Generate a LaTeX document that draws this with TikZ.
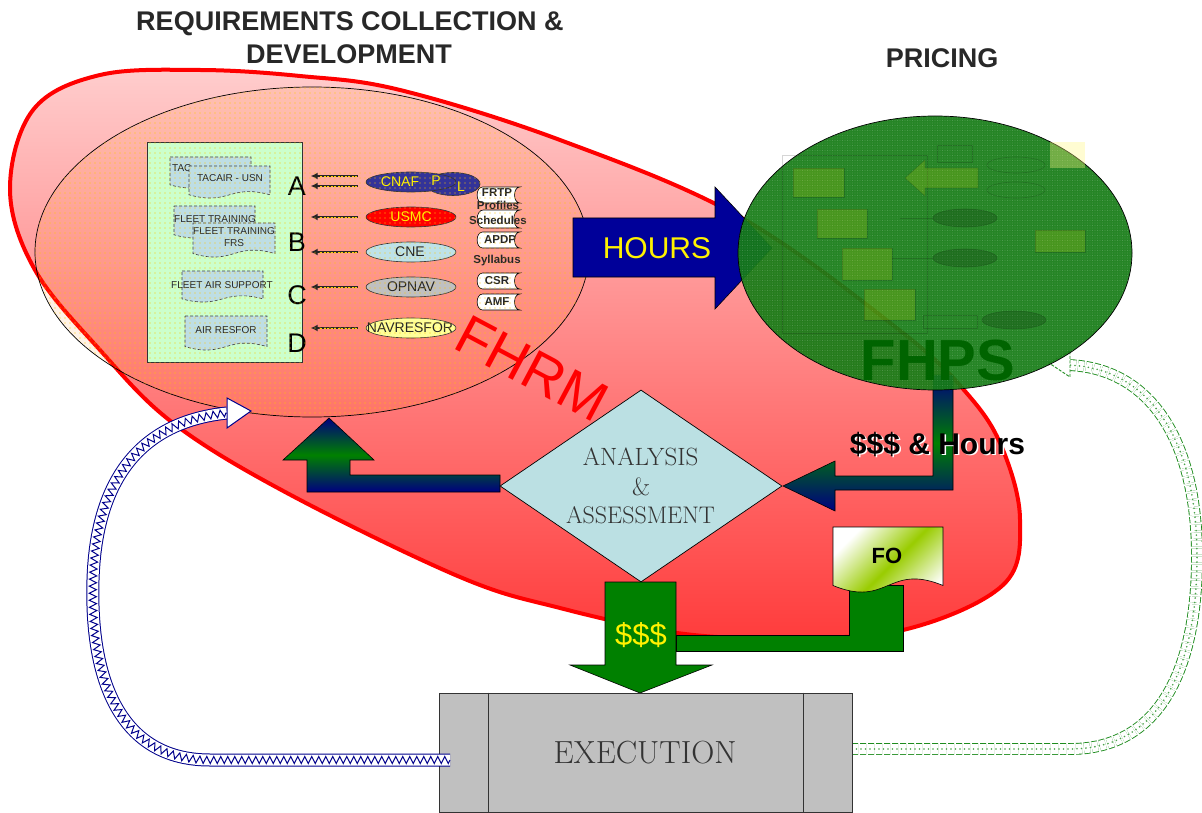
\documentclass[tikz,border=0pt]{standalone}
\usepackage{fontspec}
\setsansfont{Liberation Sans}
\usetikzlibrary{shapes.geometric,patterns,patterns.meta,decorations.pathmorphing,arrows.meta,calc}
\definecolor{redtop}{RGB}{255,205,205}
\definecolor{redbot}{RGB}{255,60,60}
\definecolor{dotyel}{RGB}{255,200,0}
\definecolor{reqgreen}{RGB}{204,255,204}
\definecolor{docblue}{RGB}{190,222,228}
\definecolor{cnafblue}{RGB}{51,51,153}
\definecolor{cnecol}{RGB}{190,226,232}
\definecolor{opcol}{RGB}{192,192,192}
\definecolor{navcol}{RGB}{255,255,153}
\definecolor{hoursblue}{RGB}{0,0,153}
\definecolor{arrnavy}{RGB}{0,0,128}
\definecolor{arrgreen}{RGB}{0,128,0}
\definecolor{dgreen}{RGB}{0,128,0}
\definecolor{fhpsgreen}{RGB}{22,124,22}
\definecolor{fhpstext}{RGB}{0,100,0}
\definecolor{diacol}{RGB}{187,224,227}
\definecolor{execgray}{RGB}{192,192,192}
\definecolor{titlegray}{RGB}{40,40,40}
\definecolor{fogreen}{RGB}{153,204,0}
\definecolor{bandblue}{RGB}{0,0,140}
\definecolor{bandgreen}{RGB}{30,140,30}
\newcommand{\myfs}[1]{\fontsize{#1}{#1}\selectfont}
\newcommand{\mydoc}[5]{%
 \pgfmathsetmacro\mydw{#4-#2}%
 \pgfmathsetmacro\mydh{#5-#3}%
 \pgfmathsetmacro\myyb{#3+0.9*\mydh}%
 \path[#1] (#2,#3) -- (#4,#3) -- (#4,\myyb) .. controls ({#4-0.5*\mydw},{\myyb-0.35*\mydh}) and ({#2+0.5*\mydw},{\myyb+0.35*\mydh}) .. (#2,\myyb) -- cycle;}
\newcommand{\mytab}[5]{%
 \pgfmathsetmacro\myr{0.35*(#5-#3)}%
 \path[#1] ({#2+\myr},#3) -- (#4,#3) .. controls ({#4-1.3*\myr},#3) and ({#4-1.3*\myr},#5) .. (#4,#5) -- ({#2+\myr},#5) .. controls ({#2-0.3*\myr},#5) and ({#2-0.3*\myr},#3) .. ({#2+\myr},#3) -- cycle;}
\newcommand{\bluepath}{(bs) -- (210,760) .. controls (120,760) and (90,680) .. (93,580) .. controls (96,480) and (140,422) .. (be)}
\newcommand{\greenpath}{(gs) -- (1070,749) .. controls (1165,749) and (1197,660) .. (1197,557) .. controls (1197,440) and (1150,368) .. (ge)}
\begin{document}
\begin{tikzpicture}[x=1pt,y=-1pt,
 doc/.style={draw=black!75, densely dashed, line width=0.6pt, fill=docblue},
 doctext/.style={font=\sffamily\fontsize{10}{12}\selectfont, text=black!85, inner sep=0, align=center},
 tabsh/.style={draw=black, line width=0.6pt, fill=white},
 tabtext/.style={font=\sffamily\bfseries\myfs{11.5}, text=black!85, inner sep=0},
 org/.style={ellipse, draw=black!80, line width=0.6pt, minimum width=90pt, minimum height=20pt, inner sep=0},
 orgtext/.style={font=\sffamily\myfs{14}, inner sep=0},
 thinarr/.style={line width=2.8pt, draw=black!85, -{Latex[length=7pt,width=7pt]}},
 thinin/.style={line width=0.5pt, draw=yellow!70!orange, dash pattern=on 2pt off 1.5pt},
 letter/.style={font=\sffamily\myfs{27}, inner sep=0},
 blk/.style={draw=black, line width=0.6pt},
 title/.style={font=\sffamily\bfseries\myfs{27}, text=titlegray, inner sep=0, anchor=base},
 serif/.style={font=\rmfamily\myfs{25}, text=black!80, inner sep=0, anchor=base}]
\useasboundingbox (0,0) rectangle (1202,813);
\fill[white] (0,0) rectangle (1202,813);
% titles
\node[title] (t1) at (350,31) {REQUIREMENTS COLLECTION \&};
\node[title] (t2) at (349,64) {DEVELOPMENT};
\node[title] (t3) at (942,68) {PRICING};
% big FHRM region
\shade[draw=red, line width=4pt, top color=redtop, bottom color=redbot] plot[smooth cycle, tension=0.6] coordinates {(10,190) (33,110) (100,75) (200,70) (300,76) (400,90) (560,140) (740,217) (903,333) (970,397) (1003,450) (1020,520) (1003,585) (903,630) (780,638) (677,633) (560,608) (460,577) (287,493) (173,423) (100,350) (35,270)};
% inner requirements ellipse
\fill[orange, opacity=0.1] (312,252) ellipse [x radius=277pt, y radius=165pt];
\node[ellipse, draw=black, line width=0.7pt, minimum width=554pt, minimum height=330pt, inner sep=0] (reqell) at (312,252) {};
\node[draw=black!80, line width=0.7pt, fill=reqgreen, minimum width=155pt, minimum height=220pt, anchor=north west, inner sep=0] (reqbox) at (147,142) {};
% documents
\mydoc{doc}{170}{157}{251}{188}
\node[doctext, anchor=west] (dtac) at (172,168) {TAC};
\mydoc{doc}{189}{166}{270}{198}
\node[doctext] (dusn) at (230,178) {TACAIR - USN};
\mydoc{doc}{174}{206}{255}{238}
\node[doctext] (dft) at (215,219) {FLEET TRAINING};
\mydoc{doc}{193}{223}{275}{257}
\node[doctext] (dfrs) at (234,237) {FLEET TRAINING\\FRS};
\mydoc{doc}{182}{271}{263}{302}
\node[doctext] (dfas) at (222,285) {FLEET AIR SUPPORT};
\mydoc{doc}{185}{316}{267}{350}
\node[doctext] (dair) at (226,330) {AIR RESFOR};
% letters
\node[letter] (la) at (297,186) {A};
\node[letter] (lb) at (297,242) {B};
\node[letter] (lc) at (297,295) {C};
\node[letter] (ld) at (297,343) {D};
% organisation ellipses
\node[org, fill=cnafblue, minimum width=54pt, minimum height=23pt] (cnafl) at (453,184) {};
\node[org, fill=cnafblue] (cnaf) at (411,182) {};
\node[orgtext, text=yellow] (cnaft) at (400,182) {CNAF};
\node[orgtext, text=yellow] (cnafp) at (436,181) {P};
\node[orgtext, text=yellow] (cnafll) at (461,187) {L};
\node[org, fill=red] (usmc) at (411,217) {};
\node[orgtext, text=yellow] (usmct) at (411,217) {USMC};
\node[org, fill=cnecol] (cne) at (411,252) {};
\node[orgtext, text=black!85] (cnet) at (410,252) {CNE};
\node[org, fill=opcol] (opnav) at (411,287) {};
\node[orgtext, text=black!85] (opnavt) at (411,287) {OPNAV};
\node[org, fill=navcol] (navres) at (411,328) {};
\node[orgtext, text=black!85] (navrest) at (410,328) {NAVRESFOR};
% thin arrows
\draw[thinarr] ($(cnaf.west)+(-8,-6)$) -- ($(reqbox.east |- cnaf.west)+(8,-6)$);
\draw[thinarr] ($(cnaf.west)+(-8,4)$) -- ($(reqbox.east |- cnaf.west)+(8,4)$);
\draw[thinarr] ($(usmc.west)+(-8,0)$) -- ($(reqbox.east |- usmc.west)+(8,0)$);
\draw[thinarr] ($(cne.west)+(-8,0)$) -- ($(reqbox.east |- cne.west)+(8,0)$);
\draw[thinarr] ($(opnav.west)+(-8,0)$) -- ($(reqbox.east |- opnav.west)+(8,0)$);
\draw[thinarr] ($(navres.west)+(-8,0)$) -- ($(reqbox.east |- navres.west)+(8,0)$);
\foreach \yy in {176,186,217,252,287,328} {\draw[thinin] (357,\yy) -- (320,\yy);}
% tabs
\mytab{tabsh}{477}{187}{520}{203}
\node[tabtext] (tfrtp) at (497,193) {FRTP};
\node[tabtext] (tprof) at (498,205) {Profiles};
\mytab{tabsh}{477}{210}{520}{228}
\node[tabtext] (tsch) at (498,220) {Schedules};
\mytab{tabsh}{477}{232}{520}{248}
\node[tabtext] (tapdp) at (500,240) {APDP};
\node[tabtext] (tsyl) at (497,261) {Syllabus};
\mytab{tabsh}{477}{273}{520}{289}
\node[tabtext] (tcsr) at (497,281) {CSR};
\mytab{tabsh}{477}{294}{520}{310}
\node[tabtext] (tamf) at (497,302) {AMF};
% dot texture over inner ellipse
\fill[pattern={Dots[distance=5pt,radius=0.6pt]}, pattern color=dotyel] (312,252) ellipse [x radius=277pt, y radius=165pt];
% FHRM
\node[text=red, font=\sffamily\myfs{56}, rotate=-28, inner sep=0] (fhrm) at (532,368) {FHRM};
% HOURS arrow
\draw[blk, fill=hoursblue] (573,218) -- (715,218) -- (715,187) -- (772,248) -- (715,309) -- (715,277) -- (573,277) -- cycle;
\node[text=yellow, font=\sffamily\myfs{30}, inner sep=0] (hours) at (657,248) {HOURS};
% $$$ & Hours arrow
\shade[blk, top color=arrnavy, bottom color=arrnavy, middle color=arrgreen] (933,375) -- (953,375) -- (953,490) -- (835,490) -- (835,511) -- (783,486) -- (835,461) -- (835,476) -- (933,476) -- cycle;
% green return band
\coordinate (gs) at (852,749);
\coordinate (ge) at (1068,365);
\draw[draw=bandgreen, line width=0.9pt, dash pattern=on 6pt off 2pt, double=white, double distance=10pt] \greenpath;
\draw[bandgreen!80, line width=1.8pt, line cap=round, dash pattern=on 0pt off 4.5pt] \greenpath;
\draw[draw=bandgreen, line width=0.9pt, dash pattern=on 3pt off 1.5pt, fill=white] (1070,351) -- (1049,363) -- (1070,377) -- cycle;
% FHPS ellipse
\node[ellipse, draw=black, line width=0.7pt, fill=fhpsgreen, fill opacity=0.93, minimum width=394pt, minimum height=274pt, inner sep=0] (fhpsell) at (935,253) {};
\fill[pattern={Dots[distance=2.5pt,radius=0.45pt]}, pattern color=white, opacity=0.28] (935,253) ellipse [x radius=197pt, y radius=137pt];
\begin{scope}[opacity=0.16, line width=0.6pt]
 \draw[black] (782,155) rectangle (927,333);
 \filldraw[fill=yellow, draw=black] (793,168) rectangle (844,197);
 \filldraw[fill=yellow, draw=black] (817,209) rectangle (867,238);
 \filldraw[fill=yellow, draw=black] (842,248) rectangle (892,280);
 \filldraw[fill=yellow, draw=black] (864,289) rectangle (915,320);
 \filldraw[fill=yellow, draw=black] (1035,230) rectangle (1085,252);
 \filldraw[fill=yellow, draw=black] (905,178) -- (925,160) -- (925,168) -- (978,168) -- (978,188) -- (925,188) -- (925,196) -- cycle;
 \draw[black] (937,145) rectangle (972,162);
 \draw[black] (923,315) rectangle (977,328);
 \filldraw[fill=black, draw=black] (965,218) ellipse [x radius=32pt, y radius=9pt];
 \filldraw[fill=black, draw=black] (965,258) ellipse [x radius=32pt, y radius=9pt];
 \filldraw[fill=black, draw=black] (1014,320) ellipse [x radius=32pt, y radius=9pt];
 \draw[black] (1016,165) ellipse [x radius=29pt, y radius=8pt];
 \draw[black] (1016,190) ellipse [x radius=29pt, y radius=8pt];
 \draw[black] (900,218) -- (933,218);
 \draw[black] (892,258) -- (933,258);
\end{scope}
\fill[yellow!50, opacity=0.35] (1050,142) rectangle (1085,168);
\node[text=fhpstext, font=\sffamily\bfseries\myfs{58}, inner sep=0, anchor=base] (fhps) at (938,380) {FHPS};
\node[text=white, font=\sffamily\bfseries\myfs{30}, inner sep=0, anchor=base] (shsh) at (939,455.5) {\$\$\$ \& Hours};
\node[text=black, font=\sffamily\bfseries\myfs{30}, inner sep=0, anchor=base] (sh) at (937.5,454) {\$\$\$ \& Hours};
% left return arrow to requirements
\shade[blk, top color=arrnavy, bottom color=arrnavy, middle color=arrgreen] (500,475) -- (350,475) -- (350,460) -- (374,460) -- (329,418) -- (283,460) -- (307,460) -- (307,492) -- (500,492) -- cycle;
% analysis diamond
\node[diamond, draw=black, line width=0.7pt, fill=diacol, minimum width=282pt, minimum height=192pt, inner sep=0] (aa) at (641,486) {};
\node[serif] (aa1) at (640.5,465) {ANALYSIS};
\node[serif] (aa2) at (641,495) {\&};
\node[serif, font=\rmfamily\myfs{24}] (aa3) at (640.5,523) {ASSESSMENT};
% FO and $$$ arrows
\draw[blk, fill=dgreen] (676,635) -- (849,635) -- (849,585) -- (903,585) -- (903,651) -- (676,651) -- cycle;
\draw[blk, fill=dgreen] (605,582) -- (676,582) -- (676,665) -- (712,665) -- (640,693) -- (570,665) -- (605,665) -- cycle;
\node[text=yellow, font=\sffamily\myfs{31}, inner sep=0, anchor=base] (dollars) at (641,645) {\$\$\$};
\mydoc{draw=black, line width=0.6pt, left color=white, right color=white, middle color=fogreen, shading angle=45}{833}{527}{943}{592}
\node[font=\sffamily\bfseries\myfs{22}, inner sep=0] (fo) at (887,556) {FO};
% execution
\node[draw=black!80, line width=0.8pt, fill=execgray, minimum width=413pt, minimum height=119pt, inner sep=0] (exec) at (645.5,752.5) {};
\draw[black!80, line width=0.8pt] ([xshift=50pt]exec.north west) -- ([xshift=50pt]exec.south west);
\draw[black!80, line width=0.8pt] ([xshift=-49pt]exec.north east) -- ([xshift=-49pt]exec.south east);
\node[serif, font=\rmfamily\myfs{32}] (exect) at (645,763) {EXECUTION};
% blue return band
\coordinate (bs) at (450,760);
\coordinate (be) at (227,413);
\draw[draw=bandblue, line width=1pt, double=white, double distance=11pt] \bluepath;
\draw[bandblue, line width=1pt, decorate, decoration={zigzag, amplitude=3.6pt, segment length=7pt}] \bluepath;
\draw[draw=bandblue, line width=1pt, fill=white] (227,398) -- (251,411) -- (227,428) -- cycle;
\end{tikzpicture}
\end{document}
